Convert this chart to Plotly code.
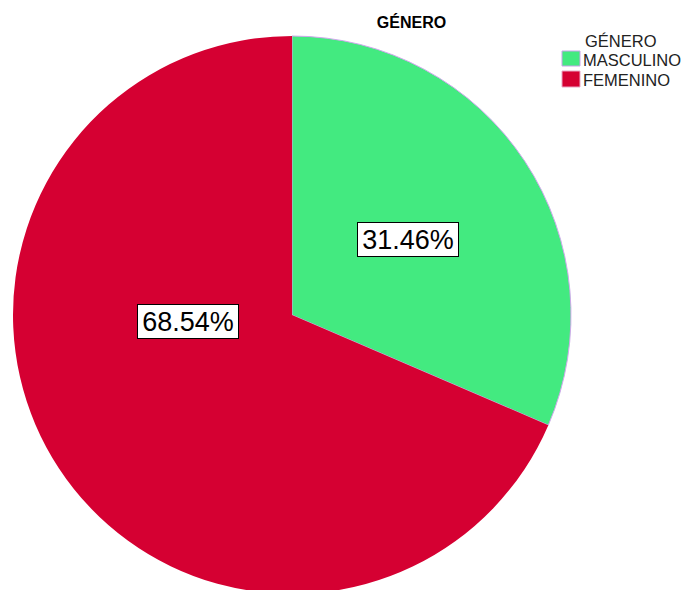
import plotly.graph_objects as go

# Distribution by gender
categories = ["MASCULINO", "FEMENINO"]
percentages = [31.46, 68.54]
colors = ["#43EA80", "#D50032"]
slice_edges = ["#cfa8ec", "rgba(213,0,50,0)"]
edge_colors = ["#c9a2ea", "#e9a6c4"]
legend_title = "GÉNERO"
chart_title = "GÉNERO"

W, H = 685, 600
cx, cy, R = 292, 315, 279
L, T = cx - R, cy - R
PW, PH = 2 * R, 2 * R


def px_x(x):
    """Pixel x -> paper fraction."""
    return (x - L) / PW


def px_y(y):
    """Pixel y (from top) -> paper fraction."""
    return 1 - (y - T) / PH


fig = go.Figure(
    go.Pie(
        labels=categories,
        values=percentages,
        sort=False,
        direction="clockwise",
        rotation=0,
        marker=dict(colors=colors, line=dict(color=slice_edges, width=1)),
        textinfo="none",
        hoverinfo="label+percent",
        showlegend=False,
    )
)

FONT = "Liberation Sans, Arial"

# Percentage labels in boxed annotations
label_pos = [(408, 239), (188, 321)]
for pct, (x, y) in zip(percentages, label_pos):
    fig.add_annotation(
        x=px_x(x), y=px_y(y), xref="paper", yref="paper",
        xanchor="center", yanchor="middle",
        text=f"{pct:.2f}%", showarrow=False,
        width=98, height=31,
        font=dict(family=FONT, size=27, color="#000000"),
        bgcolor="#ffffff", bordercolor="#000000", borderwidth=1, borderpad=1,
    )

# Legend: title, colour swatches and category names
fig.add_annotation(
    x=px_x(584), y=px_y(41), xref="paper", yref="paper",
    xanchor="left", yanchor="middle", showarrow=False,
    text=legend_title, font=dict(family=FONT, size=16.5, color="#222222"),
    borderpad=0,
)
row_y = [(51, 66), (71, 87)]
for name, col, edge, (y0, y1) in zip(categories, colors, edge_colors, row_y):
    fig.add_shape(
        type="rect", xref="paper", yref="paper",
        x0=px_x(562), x1=px_x(580), y0=px_y(y1), y1=px_y(y0),
        fillcolor=col, line=dict(color=edge, width=1),
    )
    fig.add_annotation(
        x=px_x(582), y=px_y((y0 + y1) / 2 + 1), xref="paper", yref="paper",
        xanchor="left", yanchor="middle", showarrow=False,
        text=name, font=dict(family=FONT, size=16.5, color="#222222"),
        borderpad=0,
    )

fig.update_layout(
    width=W, height=H,
    margin=dict(l=L, r=W - (cx + R), t=T, b=H - (cy + R), autoexpand=False),
    paper_bgcolor="#ffffff", plot_bgcolor="#ffffff",
    font=dict(family=FONT, color="#222222"),
    showlegend=False,
    title=dict(
        text=f"<b>{chart_title}</b>", x=411.5 / W, xref="container", xanchor="center",
        y=1 - 22.5 / H, yref="container", yanchor="middle",
        font=dict(size=16, color="#000000"),
    ),
)

fig.write_html(
    "out.html",
    post_script="document.documentElement.style.overflow='hidden';document.body.style.overflow='hidden';",
)
